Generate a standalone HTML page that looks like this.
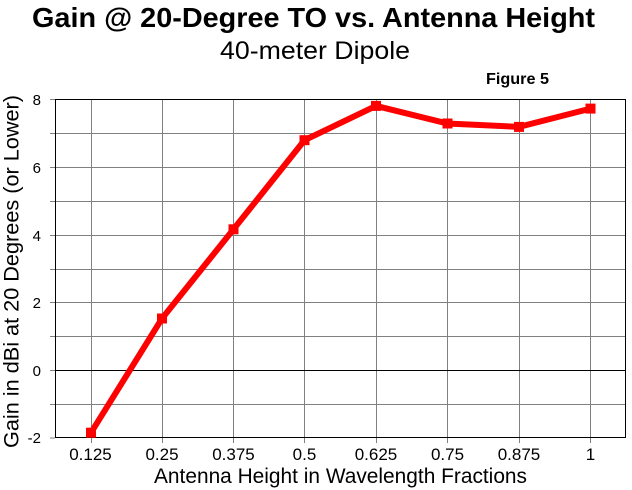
<!DOCTYPE html>
<html>
<head>
<meta charset="utf-8">
<style>
  html, body { margin: 0; padding: 0; background: #ffffff; }
  svg { display: block; }
  text { font-family: "Liberation Sans", Arial, sans-serif; fill: #000; }
</style>
</head>
<body>
<svg width="632" height="490" viewBox="0 0 632 490" xmlns="http://www.w3.org/2000/svg">
  <rect x="0" y="0" width="632" height="490" fill="#ffffff"/>

  <!-- Titles -->
  <text x="32" y="27" font-size="28" font-weight="bold" textLength="563" lengthAdjust="spacingAndGlyphs">Gain @ 20-Degree TO vs. Antenna Height</text>
  <text x="220" y="59" font-size="25" textLength="190" lengthAdjust="spacingAndGlyphs">40-meter Dipole</text>
  <text x="486" y="84" font-size="16" font-weight="bold" textLength="63" lengthAdjust="spacingAndGlyphs">Figure 5</text>

  <!-- Horizontal gridlines -->
  <g stroke="#808080" stroke-width="1">
    <line x1="55" y1="133.5" x2="626" y2="133.5"/>
    <line x1="55" y1="167.5" x2="626" y2="167.5"/>
    <line x1="55" y1="201.5" x2="626" y2="201.5"/>
    <line x1="55" y1="235.5" x2="626" y2="235.5"/>
    <line x1="55" y1="269.5" x2="626" y2="269.5"/>
    <line x1="55" y1="302.5" x2="626" y2="302.5"/>
    <line x1="55" y1="336.5" x2="626" y2="336.5"/>
    <line x1="55" y1="404.5" x2="626" y2="404.5"/>
  </g>
  <!-- Vertical gridlines -->
  <g stroke="#808080" stroke-width="1">
    <line x1="91.5" y1="99" x2="91.5" y2="443"/>
    <line x1="162.5" y1="99" x2="162.5" y2="443"/>
    <line x1="233.5" y1="99" x2="233.5" y2="443"/>
    <line x1="304.5" y1="99" x2="304.5" y2="443"/>
    <line x1="376.5" y1="99" x2="376.5" y2="443"/>
    <line x1="447.5" y1="99" x2="447.5" y2="443"/>
    <line x1="519.5" y1="99" x2="519.5" y2="443"/>
    <line x1="590.5" y1="99" x2="590.5" y2="443"/>
  </g>
  <!-- Y ticks -->
  <g stroke="#808080" stroke-width="1">
    <line x1="50" y1="99.5" x2="55" y2="99.5"/>
    <line x1="50" y1="133.5" x2="55" y2="133.5"/>
    <line x1="50" y1="167.5" x2="55" y2="167.5"/>
    <line x1="50" y1="201.5" x2="55" y2="201.5"/>
    <line x1="50" y1="235.5" x2="55" y2="235.5"/>
    <line x1="50" y1="269.5" x2="55" y2="269.5"/>
    <line x1="50" y1="302.5" x2="55" y2="302.5"/>
    <line x1="50" y1="336.5" x2="55" y2="336.5"/>
    <line x1="50" y1="370.5" x2="55" y2="370.5"/>
    <line x1="50" y1="404.5" x2="55" y2="404.5"/>
    <line x1="50" y1="438" x2="55" y2="438"/>
  </g>

  <!-- Zero line -->
  <line x1="55" y1="370.5" x2="626" y2="370.5" stroke="#000" stroke-width="1"/>
  <!-- Frame -->
  <rect x="55.5" y="99.5" width="570" height="338" fill="none" stroke="#000" stroke-width="1"/>

  <!-- Y tick labels -->
  <g font-size="15" text-anchor="end">
    <text x="41" y="105">8</text>
    <text x="41" y="173">6</text>
    <text x="41" y="241">4</text>
    <text x="41" y="308">2</text>
    <text x="41" y="376">0</text>
    <text x="41" y="443">-2</text>
  </g>

  <!-- X tick labels -->
  <g font-size="17" text-anchor="middle">
    <text x="90.5" y="460">0.125</text>
    <text x="162" y="460">0.25</text>
    <text x="233.5" y="460">0.375</text>
    <text x="304.5" y="460">0.5</text>
    <text x="376" y="460">0.625</text>
    <text x="447.5" y="460">0.75</text>
    <text x="519" y="460">0.875</text>
    <text x="590.5" y="460">1</text>
  </g>

  <!-- Axis titles -->
  <text x="154" y="483" font-size="21" textLength="373" lengthAdjust="spacingAndGlyphs">Antenna Height in Wavelength Fractions</text>
  <text transform="translate(18.5,448) rotate(-90)" x="0" y="0" font-size="21" textLength="353" lengthAdjust="spacingAndGlyphs">Gain in dBi at 20 Degrees (or Lower)</text>

  <!-- Series -->
  <polyline fill="none" stroke="#ff0000" stroke-width="6" stroke-linejoin="miter"
    points="91,432.7 162,318.5 233.5,229.3 304.5,140.2 376,105.9 447.5,123.5 519,126.9 590.5,108.6"/>
  <g fill="#ff0000">
    <rect x="86" y="427.7" width="10" height="10"/>
    <rect x="157" y="313.5" width="10" height="10"/>
    <rect x="228.5" y="224.3" width="10" height="10"/>
    <rect x="299.5" y="135.2" width="10" height="10"/>
    <rect x="371" y="100.9" width="10" height="10"/>
    <rect x="442.5" y="118.5" width="10" height="10"/>
    <rect x="514" y="121.9" width="10" height="10"/>
    <rect x="585.5" y="103.6" width="10" height="10"/>
  </g>
</svg>
</body>
</html>
